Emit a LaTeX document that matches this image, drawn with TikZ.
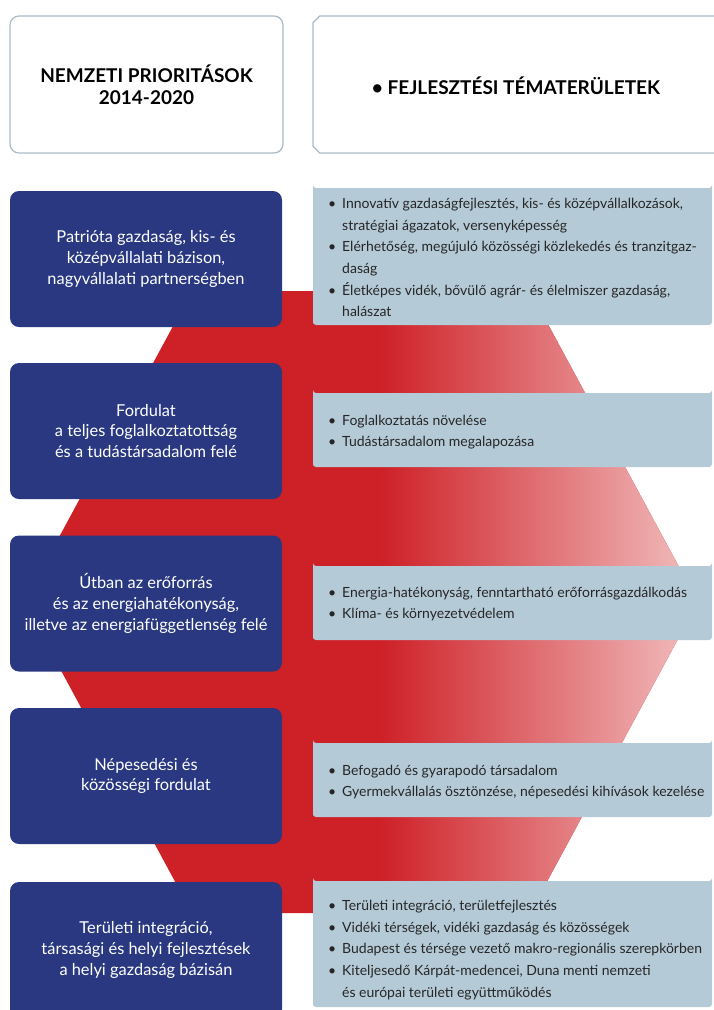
\documentclass[tikz,border=0pt]{standalone}
\usepackage{fontspec}
\setmainfont{Lato}
\usetikzlibrary{shapes.misc,positioning}
\definecolor{prionavy}{RGB}{41,56,128}
\definecolor{topicblue}{RGB}{181,202,215}
\definecolor{hexred}{RGB}{206,32,39}
\definecolor{hexpink}{RGB}{242,192,192}
\definecolor{hdrline}{RGB}{172,186,200}
\newcommand{\tbul}{\makebox[14pt][l]{\textbullet}}
\newcommand{\tind}{\hspace*{14pt}}

\begin{document}
\begin{tikzpicture}[x=1pt,y=-1pt,
  prio/.style={fill=prionavy,rounded corners=9pt,minimum width=272pt,minimum height=136pt,text=white,align=center,font=\fontsize{16.4}{20.8}\selectfont},
  topic/.style={chamfered rectangle,chamfered rectangle corners={north west,south west},chamfered rectangle xsep=8pt,chamfered rectangle ysep=8pt,fill=topicblue,rounded corners=3pt,minimum width=399pt,inner sep=0pt},
  topictext/.style={anchor=west,inner sep=0pt,align=left,text=black!85,font=\fontsize{14}{21.7}\selectfont},
  hdr/.style={draw=hdrline,line width=1.2pt,fill=white,minimum height=137pt,align=center,font=\bfseries\fontsize{19}{22}\selectfont}]
\useasboundingbox (0,0) rectangle (713,1010);
% hexagon behind the rows
\fill[hexred] (24,602)--(192,291)--(530,291)--(698,602)--(530,913)--(192,913)--cycle;
\begin{scope}
\clip (24,602)--(192,291)--(530,291)--(698,602)--(530,913)--(192,913)--cycle;
\shade[left color=hexred,right color=hexpink] (380,280) rectangle (700,925);
\end{scope}
% headers
\node[hdr,rounded corners=9pt,minimum width=273pt] (hprio) at (146.5,84.5) {NEMZETI PRIORITÁSOK\\2014-2020};
\node[hdr,chamfered rectangle,chamfered rectangle corners={north west,south west},chamfered rectangle xsep=8pt,chamfered rectangle ysep=8pt,minimum width=404pt] (htopic) at (515,84.5) {};
\node[font=\bfseries\fontsize{19}{22}\selectfont] (htopictext) at (516,86) {\textbullet{} FEJLESZTÉSI TÉMATERÜLETEK};
% priorities
\node[prio] (p1) at (146,259) {Patrióta gazdaság, kis- és\\középvállalati bázison,\\nagyvállalati partnerségben};
\node[prio] (p2) at (146,431) {Fordulat\\a teljes foglalkoztatottság\\és a tudástársadalom felé};
\node[prio] (p3) at (146,603.5) {Útban az erőforrás\\és az energiahatékonyság,\\illetve az energiafüggetlenség felé};
\node[prio] (p4) at (146,776) {Népesedési és\\közösségi fordulat};
\node[prio] (p5) at (146,950) {Területi integráció,\\társasági és helyi fejlesztések\\a helyi gazdaság bázisán};
% topic boxes
\node[topic,minimum height=137pt] (t1) at (512.5,256.5) {};
\node[topic,minimum height=74pt] (t2) at (512.5,430) {};
\node[topic,minimum height=74pt] (t3) at (512.5,603) {};
\node[topic,minimum height=74pt] (t4) at (512.5,780) {};
\node[topic,minimum height=126pt] (t5) at (512.5,944) {};
\node[topictext] (t1text) at (328,257.5) {\tbul Innovatív gazdaságfejlesztés, kis- és középvállalkozások,\\\tind stratégiai ágazatok, versenyképesség\\\tbul Elérhetőség, megújuló közösségi közlekedés és tranzitgaz-\\\tind daság\\\tbul Életképes vidék, bővülő agrár- és élelmiszer gazdaság,\\\tind halászat};
\node[topictext] (t2text) at (328,432) {\tbul Foglalkoztatás növelése\\\tbul Tudástársadalom megalapozása};
\node[topictext] (t3text) at (328,604) {\tbul Energia-hatékonyság, fenntartható erőforrásgazdálkodás\\\tbul Klíma- és környezetvédelem};
\node[topictext] (t4text) at (328,782) {\tbul Befogadó és gyarapodó társadalom\\\tbul Gyermekvállalás ösztönzése, népesedési kihívások kezelése};
\node[topictext] (t5text) at (328,950) {\tbul Területi integráció, területfejlesztés\\\tbul Vidéki térségek, vidéki gazdaság és közösségek\\\tbul Budapest és térsége vezető makro-regionális szerepkörben\\\tbul Kiteljesedő Kárpát-medencei, Duna menti nemzeti\\\tind és európai területi együttműködés};
\end{tikzpicture}
\end{document}
